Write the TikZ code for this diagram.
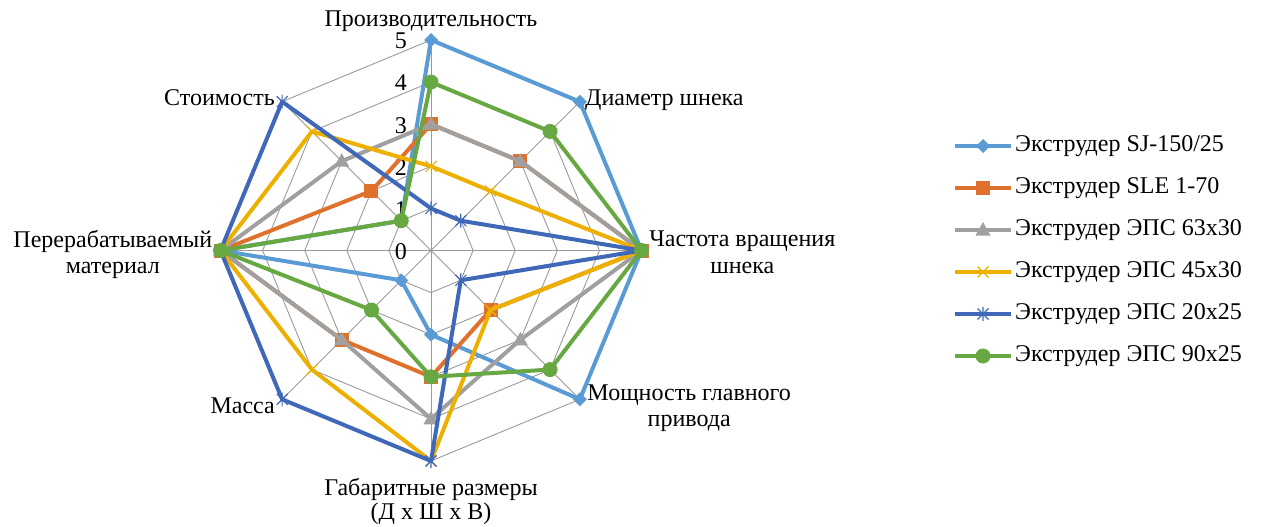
\documentclass[tikz,border=0pt]{standalone}
\usepackage{fontspec}
\setmainfont{Liberation Serif}
\definecolor{cA}{HTML}{5B9BD5}
\definecolor{cB}{HTML}{E0712C}
\definecolor{cC}{HTML}{A0A0A0}
\definecolor{cD}{HTML}{EDB000}
\definecolor{cE}{HTML}{4068B8}
\definecolor{cF}{HTML}{68A843}
\definecolor{gridc}{HTML}{9A9A9A}
\tikzset{
  gridline/.style={draw=gridc, line width=0.9},
  serie/.style={draw=#1, line width=4, line join=round},
  lbl/.style={inner sep=0, font=\fontsize{24}{26}\selectfont},
  mkA/.pic={\fill[cA] (0,-7) -- (7,0) -- (0,7) -- (-7,0) -- cycle;},
  mkB/.pic={\fill[cB] (-7,-7) rectangle (7,7);},
  mkC/.pic={\fill[cC] (0,-8) -- (7.5,5.5) -- (-7.5,5.5) -- cycle;},
  mkD/.pic={\draw[cD, line width=1.1] (-5.5,-5.5) -- (5.5,5.5) (-5.5,5.5) -- (5.5,-5.5);},
  mkE/.pic={\draw[cE, line width=1.1] (-5.5,-5.5) -- (5.5,5.5) (-5.5,5.5) -- (5.5,-5.5) (0,-7) -- (0,7);},
  mkF/.pic={\fill[cF] (0,0) circle (7.5);},
}
\newcommand\drawseries[4]{%
  \foreach \v [count=\i from 0] in {#4}{
    \coordinate (#1-\i) at ({\cx+\v*\st*cos(90-45*\i)},{\cy-\v*\st*sin(90-45*\i)});
  }
  \draw[serie=#2] (#1-0) -- (#1-1) -- (#1-2) -- (#1-3) -- (#1-4) -- (#1-5) -- (#1-6) -- (#1-7) -- cycle;
  \foreach \i in {0,...,7}{ \pic at (#1-\i) {#3}; }
}
\newcommand\legendrow[5]{% name, color, marker, y, text
  \coordinate (#1-l0) at (955,#4);
  \coordinate (#1-l1) at (1011,#4);
  \draw[serie=#2] (#1-l0) -- (#1-l1);
  \pic at ($(#1-l0)!0.5!(#1-l1)$) {#3};
  \node[lbl, anchor=west] (#1-txt) at (1015,#4) {#5};
}
\usetikzlibrary{calc}
\begin{document}
\begin{tikzpicture}[x=1pt,y=-1pt]
\useasboundingbox (0,0) rectangle (1261,527);
\def\cx{431}\def\cy{250.5}\def\st{42.1}
% grid
\foreach \k in {1,...,5}{
  \foreach \i in {0,...,7}{
    \coordinate (g\k-\i) at ({\cx+\k*\st*cos(90-45*\i)},{\cy-\k*\st*sin(90-45*\i)});
  }
  \draw[gridline] (g\k-0) -- (g\k-1) -- (g\k-2) -- (g\k-3) -- (g\k-4) -- (g\k-5) -- (g\k-6) -- (g\k-7) -- cycle;
}
\coordinate (O) at (\cx,\cy);
\foreach \i in {0,...,7}{ \draw[gridline] (O) -- (g5-\i); }
% value labels
\foreach \k in {0,...,5}{
  \node[lbl, anchor=east] (v\k) at (407,{\cy-\k*\st+1}) {\k};
}
% axis labels
\node[lbl, anchor=base] (ax0) at (431,27) {Производительность};
\node[lbl, anchor=base west] (ax1) at (585,105) {Диаметр шнека};
\node[lbl, anchor=base] (ax2a) at (742.3,246.7) {Частота вращения};
\node[lbl, anchor=base] (ax2b) at (742.3,273) {шнека};
\node[lbl, anchor=base] (ax3a) at (689.2,400.7) {Мощность главного};
\node[lbl, anchor=base] (ax3b) at (689.2,426.7) {привода};
\node[lbl, anchor=base] (ax4a) at (431,495) {Габаритные размеры};
\node[lbl, anchor=base] (ax4b) at (431,519) {(Д x Ш x В)};
\node[lbl, anchor=base east] (ax5) at (275,413) {Масса};
\node[lbl, anchor=base] (ax6a) at (112.8,247) {Перерабатываемый};
\node[lbl, anchor=base] (ax6b) at (112.8,273) {материал};
\node[lbl, anchor=base east] (ax7) at (275,105) {Стоимость};
% series
\drawseries{sA}{cA}{mkA}{5,5,5,5,2,1,5,1}
\drawseries{sB}{cB}{mkB}{3,3,5,2,3,3,5,2}
\drawseries{sC}{cC}{mkC}{3,3,5,3,4,3,5,3}
\drawseries{sD}{cD}{mkD}{2,2,5,2,5,4,5,4}
\drawseries{sE}{cE}{mkE}{1,1,5,1,5,5,5,5}
\drawseries{sF}{cF}{mkF}{4,4,5,4,3,2,5,1}
% legend
\legendrow{lA}{cA}{mkA}{146}{Экструдер SJ-150/25}
\legendrow{lB}{cB}{mkB}{188}{Экструдер SLE 1-70}
\legendrow{lC}{cC}{mkC}{230}{Экструдер ЭПС 63x30}
\legendrow{lD}{cD}{mkD}{272}{Экструдер ЭПС 45x30}
\legendrow{lE}{cE}{mkE}{314}{Экструдер ЭПС 20x25}
\legendrow{lF}{cF}{mkF}{356}{Экструдер ЭПС 90x25}
\end{tikzpicture}
\end{document}
